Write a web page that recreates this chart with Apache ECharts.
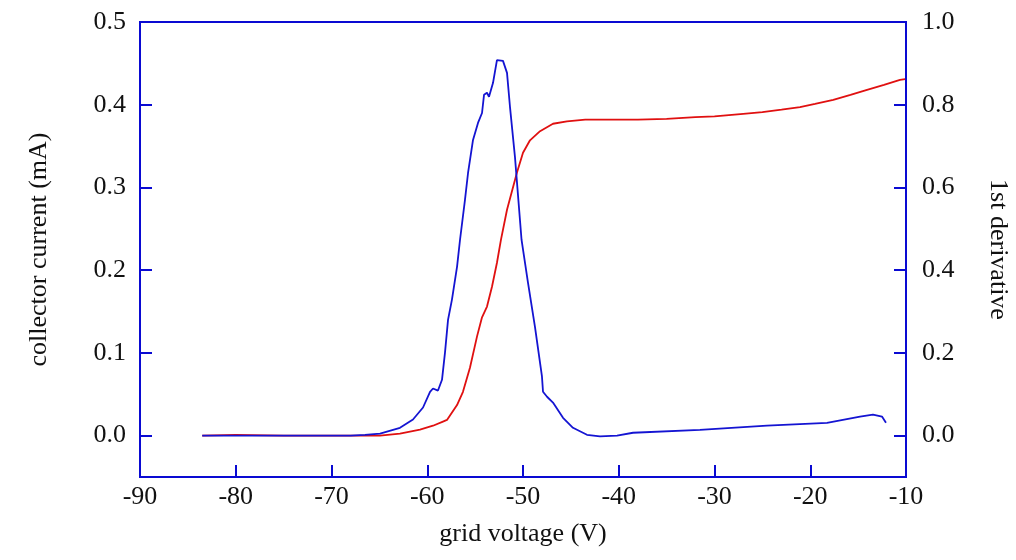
<!DOCTYPE html>
<html>
<head>
<meta charset="utf-8">
<script src="https://cdn.jsdelivr.net/npm/echarts@6/dist/echarts.min.js"></script>
<style>
  html, body { margin: 0; padding: 0; background: #fff; }
  #chart { width: 1016px; height: 560px; }
</style>
</head>
<body>
<div id="chart"></div>
<script>
// Collector current vs grid voltage (left axis, mA)
const currentVolts = [-83.5, -80, -75, -70, -67, -64.93, -62.85, -60.76, -59.40, -58.36, -57.94, -56.89, -56.27, -55.54, -54.80, -54.28, -53.76, -53.24, -52.72, -52.30, -51.67, -50.63, -50.0, -49.27, -48.22, -46.87, -45.41, -43.5, -41.96, -38, -35, -32, -30, -27, -25, -23, -21.07, -19.5, -17.6, -15.8, -14.07, -12.3, -10.63, -10.1];
const currentValues = [0.0, 0.001, 0.0, 0.0, 0.0, 0.0, 0.0024, 0.0072, 0.012, 0.017, 0.019, 0.037, 0.053, 0.082, 0.120, 0.143, 0.156, 0.180, 0.209, 0.237, 0.273, 0.318, 0.342, 0.357, 0.368, 0.377, 0.380, 0.382, 0.382, 0.382, 0.383, 0.385, 0.386, 0.389, 0.391, 0.394, 0.397, 0.401, 0.406, 0.412, 0.418, 0.424, 0.430, 0.431];

// First derivative of the current (right axis)
const derivVolts = [-83.5, -78, -72, -68, -66.5, -64.93, -62.85, -61.49, -60.44, -59.71, -59.40, -58.88, -58.46, -58.15, -57.83, -57.42, -56.89, -56.58, -56.06, -55.74, -55.22, -54.70, -54.28, -54.07, -53.76, -53.55, -53.13, -52.72, -52.09, -51.67, -51.36, -50.84, -50.15, -49.48, -48.75, -48.02, -47.91, -47.49, -46.87, -45.82, -44.78, -43.32, -41.96, -40.18, -38.51, -31.52, -24.52, -18.25, -14.80, -13.45, -12.51, -12.09];
const derivValues = [0.0, 0.0, 0.0, 0.0, 0.002, 0.005, 0.019, 0.039, 0.068, 0.106, 0.114, 0.109, 0.135, 0.200, 0.280, 0.329, 0.408, 0.473, 0.570, 0.635, 0.715, 0.756, 0.780, 0.824, 0.829, 0.819, 0.853, 0.908, 0.906, 0.877, 0.795, 0.674, 0.473, 0.370, 0.263, 0.143, 0.106, 0.094, 0.080, 0.043, 0.019, 0.002, -0.002, 0.0, 0.007, 0.014, 0.024, 0.031, 0.046, 0.051, 0.046, 0.031];

// Tick labels
const voltTicks = [-90, -80, -70, -60, -50, -40, -30, -20, -10];
const currentTicks = [0, 0.1, 0.2, 0.3, 0.4, 0.5];
const derivTicks = [0, 0.2, 0.4, 0.6, 0.8, 1.0];

const AXIS_BLUE = '#0a0ad2';
const FONT = 'Liberation Serif';
const textStyle = { fontFamily: FONT, fontSize: 26, color: '#111' };

const pairs = (xs, ys) => xs.map((x, i) => [x, ys[i]]);

const chart = echarts.init(document.getElementById('chart'), null, { renderer: 'canvas' });

chart.setOption({
  animation: false,
  backgroundColor: '#fff',
  grid: {
    left: 140, right: 110, top: 22, bottom: 83,
    outerBoundsMode: 'none',
    containLabel: false,
    show: true, borderColor: AXIS_BLUE, borderWidth: 2, backgroundColor: 'transparent'
  },
  xAxis: {
    type: 'value',
    min: -90, max: -10, interval: 10,
    name: 'grid voltage (V)',
    nameLocation: 'middle',
    nameGap: 44,
    nameTextStyle: textStyle,
    axisLine: { show: true, onZero: false, lineStyle: { color: AXIS_BLUE, width: 2 } },
    axisTick: { show: true, inside: true, length: 12, lineStyle: { color: AXIS_BLUE, width: 2 } },
    axisLabel: {
      ...textStyle, margin: 7,
      customValues: voltTicks,
      formatter: v => String(v)
    },
    splitLine: { show: false }
  },
  yAxis: [
    {
      type: 'value',
      min: -0.05, max: 0.5,
      position: 'left',
      name: 'collector current (mA)',
      nameLocation: 'middle',
      nameRotate: 90,
      nameGap: 88,
      nameTextStyle: textStyle,
      axisLine: { show: true, onZero: false, lineStyle: { color: AXIS_BLUE, width: 2 } },
      axisTick: { show: true, inside: true, length: 12, customValues: currentTicks, lineStyle: { color: AXIS_BLUE, width: 2 } },
      axisLabel: { ...textStyle, margin: 14, customValues: currentTicks, formatter: v => v.toFixed(1) },
      splitLine: { show: false }
    },
    {
      type: 'value',
      min: -0.1, max: 1.0,
      position: 'right',
      name: '1st derivative',
      nameLocation: 'middle',
      nameRotate: -90,
      nameGap: 79,
      nameTextStyle: textStyle,
      axisLine: { show: true, onZero: false, lineStyle: { color: AXIS_BLUE, width: 2 } },
      axisTick: { show: true, inside: true, length: 12, customValues: derivTicks, lineStyle: { color: AXIS_BLUE, width: 2 } },
      axisLabel: { ...textStyle, margin: 16, customValues: derivTicks, formatter: v => v.toFixed(1) },
      splitLine: { show: false }
    }
  ],
  series: [
    {
      name: 'collector current',
      type: 'line',
      yAxisIndex: 0,
      data: pairs(currentVolts, currentValues),
      showSymbol: false,
      smooth: false,
      lineStyle: { color: '#e01010', width: 1.8 },
      itemStyle: { color: '#e01010' },
      z: 3
    },
    {
      name: '1st derivative',
      type: 'line',
      yAxisIndex: 1,
      data: pairs(derivVolts, derivValues),
      showSymbol: false,
      smooth: false,
      lineStyle: { color: '#1414d2', width: 1.8 },
      itemStyle: { color: '#1414d2' },
      z: 4
    }
  ]
});
</script>
</body>
</html>
